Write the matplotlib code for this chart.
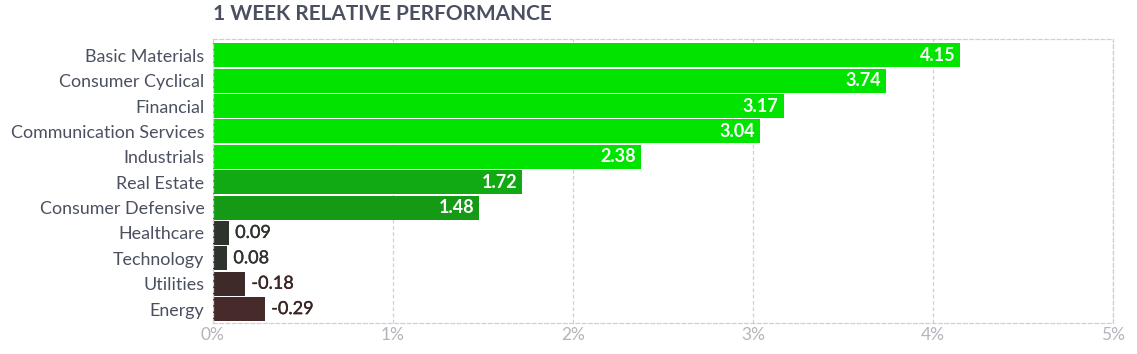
import numpy as np
import matplotlib.pyplot as plt
import matplotlib.patheffects as pe
from matplotlib.ticker import FixedLocator

plt.rcParams['font.family'] = ['Lato', 'DejaVu Sans']

sectors = ['Basic Materials', 'Consumer Cyclical', 'Financial', 'Communication Services',
           'Industrials', 'Real Estate', 'Consumer Defensive', 'Healthcare',
           'Technology', 'Utilities', 'Energy']
perf = [4.15, 3.74, 3.17, 3.04, 2.38, 1.72, 1.48, 0.09, 0.08, -0.18, -0.29]
bar_colors = ['#00e400', '#00e400', '#00e400', '#00e400', '#00e400', '#12aa12',
              '#159a15', '#2e332e', '#2e332e', '#3f2a2a', '#472b2b']
xticks = [0, 1, 2, 3, 4, 5]
xticklabels = ['0%', '1%', '2%', '3%', '4%', '5%']

fig = plt.figure(figsize=(11.37, 3.54), dpi=100)
ax = fig.add_axes([0.1871, 0.0867, 0.7918, 0.8023])

y = np.arange(len(sectors))
vals = np.abs(perf)
ax.barh(y, vals, height=0.946, color=bar_colors, zorder=2)

for yi, v, p, c in zip(y, vals, perf, bar_colors):
    txt = f'{p:.2f}'
    if v > 1:
        ax.annotate(txt, (v, yi), xytext=(-3.5, 0), textcoords='offset points',
                    ha='right', va='center', color='white', fontsize=13,
                    fontweight='bold', zorder=3)
    else:
        # slightly heavier than regular, like the original's semibold
        tc = '#3a2424' if p < 0 else '#2e332e'
        ax.annotate(txt, (v, yi), xytext=(4.5, 0), textcoords='offset points',
                    ha='left', va='center', color=tc, fontsize=13, zorder=3,
                    path_effects=[pe.withStroke(linewidth=0.25, foreground=tc)])

ax.set_xlim(0, 5)
ax.set_ylim(10.56, -0.63)
ax.set_yticks(y)
ax.set_yticklabels(sectors, fontsize=12.9, color='#4b5060')
ax.xaxis.set_major_locator(FixedLocator(xticks))
ax.set_xticklabels(xticklabels, fontsize=12.5, color='#b4b4bc')
ax.tick_params(length=0, pad=3)
ax.tick_params(axis='y', pad=6)

ax.grid(axis='x', color='#d0d0d0', linestyle=(0, (3, 2)), linewidth=0.9, zorder=1)
for s in ax.spines.values():
    s.set_color('#d0d0d0')
    s.set_linestyle((0, (3, 2)))
    s.set_linewidth(0.9)

fig.text(213 / 1137, 1 - 14 / 354, '1 WEEK RELATIVE PERFORMANCE', ha='left', va='center',
         fontsize=15, fontweight='bold', color='#4b5060')

fig.savefig('out.png', dpi=100)
